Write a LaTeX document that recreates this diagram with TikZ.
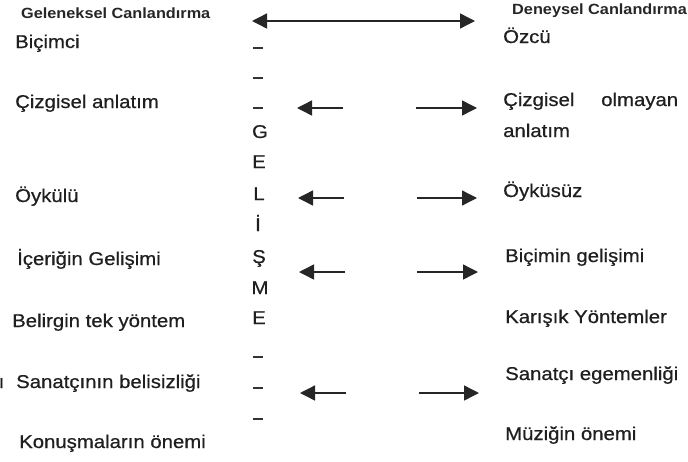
\documentclass[tikz,border=0pt]{standalone}
\usepackage{fontspec}
\setmainfont{Liberation Sans}[FakeStretch=1.1]
\newfontfamily\bodyfont{Liberation Sans}[FakeStretch=1.1,FakeBold=0.6]
\usetikzlibrary{arrows.meta}
\begin{document}
\begin{tikzpicture}[x=1pt,y=-1pt,
  txt/.style={anchor=base west,inner sep=0pt,font=\bodyfont\fontsize{18.5}{20}\selectfont,text=black!88},
  hdr/.style={anchor=base west,inner sep=0pt,font=\fontsize{14.8}{17}\selectfont\bfseries,text=black!85},
  letter/.style={anchor=base,inner sep=0pt,font=\bodyfont\fontsize{18.5}{20}\selectfont,text=black!88},
  arr/.style={line width=1.4pt,draw=black!85,-{Triangle[length=15pt,width=15pt]}},
  darr/.style={line width=1.4pt,draw=black!85,{Triangle[length=15pt,width=15pt]}-{Triangle[length=15pt,width=15pt]}},
  dashmark/.style={line width=1.1pt,draw=black!80}]
\useasboundingbox (0,0) rectangle (688,461);
% headers
\node[hdr] (hL) at (21,18) {Geleneksel Canlandırma};
\node[hdr] (hR) at (512,14) {Deneysel Canlandırma};
% left column
\node[txt] (L1) at (15,48) {Biçimci};
\node[txt] (L2) at (15,108) {Çizgisel anlatım};
\node[txt] (L3) at (15,202) {Öykülü};
\node[txt] (L4) at (17,265) {İçeriğin Gelişimi};
\node[txt] (L5) at (12,327) {Belirgin tek yöntem};
\node[txt] (L6a) at (-1.5,388) {ı};
\node[txt] (L6) at (16,388) {Sanatçının belisizliği};
\node[txt] (L7) at (19,448) {Konuşmaların önemi};
% right column
\node[txt] (R1) at (503,43) {Özcü};
\node[txt] (R2) at (503,106) {\makebox[175pt][l]{Çizgisel\hfill olmayan}};
\node[txt] (R2b) at (503,137) {anlatım};
\node[txt] (R3) at (503,197) {Öyküsüz};
\node[txt] (R4) at (505,262) {Biçimin gelişimi};
\node[txt] (R5) at (505,323) {Karışık Yöntemler};
\node[txt] (R6) at (505,380) {Sanatçı egemenliği};
\node[txt] (R7) at (505,440) {Müziğin önemi};
% middle column
\draw[dashmark] (253,48) -- (263,48);
\draw[dashmark] (253,78) -- (263,78);
\draw[dashmark] (253,108) -- (263,108);
\node[letter] (m1) at (260,138) {G};
\node[letter] (m2) at (259,168) {E};
\node[letter] (m3) at (259,200) {L};
\node[letter] (m4) at (258,231) {İ};
\node[letter] (m5) at (259,263) {Ş};
\node[letter] (m6) at (260,294) {M};
\node[letter] (m7) at (259,324) {E};
\draw[dashmark] (253,357) -- (263,357);
\draw[dashmark] (253,388) -- (263,388);
\draw[dashmark] (253,419) -- (263,419);
% top double arrow
\coordinate (tl) at (252,21);
\coordinate (tr) at (475,21);
\draw[darr] (tl) -- (tr);
% row arrows
\coordinate (a1s) at (343,108); \coordinate (a1e) at (297,108);
\coordinate (b1s) at (416,108); \coordinate (b1e) at (477,108);
\coordinate (a2s) at (344,198); \coordinate (a2e) at (298,198);
\coordinate (b2s) at (417,198); \coordinate (b2e) at (477,198);
\coordinate (a3s) at (345,272); \coordinate (a3e) at (299,272);
\coordinate (b3s) at (417,272); \coordinate (b3e) at (478,272);
\coordinate (a4s) at (346,393); \coordinate (a4e) at (300,393);
\coordinate (b4s) at (419,393); \coordinate (b4e) at (479,393);
\foreach \r in {1,2,3,4}{
  \draw[arr] (a\r s) -- (a\r e);
  \draw[arr] (b\r s) -- (b\r e);
}
\end{tikzpicture}
\end{document}
